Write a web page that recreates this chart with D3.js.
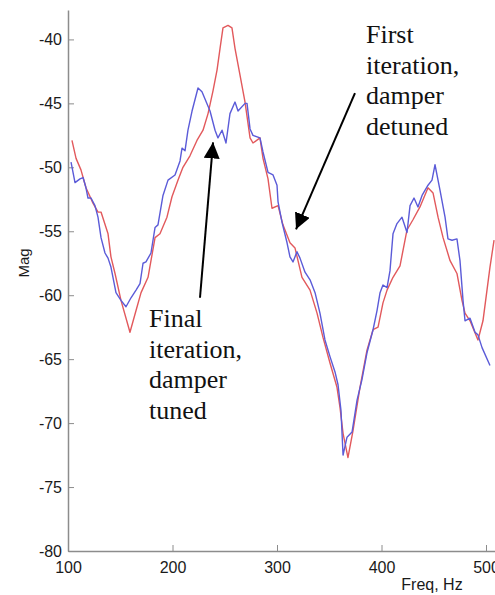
<!DOCTYPE html>
<html>
<head>
<meta charset="utf-8">
<script src="https://cdn.jsdelivr.net/npm/d3@7"></script>
<style>
  body { margin: 0; background: #fff; }
  svg { display: block; overflow: hidden; }
  .axis path, .axis line { stroke: #8c8c8c; }
  .axis text { font-family: "Liberation Sans", Arial, sans-serif; font-size: 16px; fill: #1a1a1a; }
  .note { font-family: "Liberation Serif", "Times New Roman", serif; font-size: 26px; fill: #111; }
</style>
</head>
<body>
<div id="chart"></div>
<script>
// first iteration, damper detuned (red)
const redFreq = [103.8, 107.7, 112.4, 117.2, 123.9, 128.7, 131.6, 138.3, 141.1, 145.0, 150.7, 159.3,
  165.1, 169.9, 176.6, 179.4, 183.3, 188.0, 194.7, 199.5, 205.3, 210.0, 216.7, 223.4, 229.2, 234.0,
  238.8, 242.6, 245.5, 248.3, 253.1, 256.9, 259.8, 264.6, 269.4, 274.2, 277.0, 283.7, 286.6, 291.4,
  295.2, 301.0, 305.7, 312.4, 317.2, 323.9, 331.6, 338.3, 344.0, 350.7, 357.4, 360.3, 363.2, 367.9,
  372.7, 379.4, 386.1, 391.9, 396.7, 401.4, 405.3, 411.0, 417.7, 424.4, 430.1, 436.8, 444.5, 449.3,
  454.1, 458.9, 465.6, 472.2, 477.0, 479.9, 484.7, 492.3, 497.1, 503.8, 507.7];
const redMag = [-47.9, -49.3, -50.2, -51.6, -52.8, -53.5, -53.5, -55.2, -57.0, -58.3, -60.4, -62.9,
  -61.2, -59.8, -58.6, -57.3, -55.5, -55.2, -53.9, -52.3, -51.0, -50.0, -49.1, -47.9, -47.1, -45.8,
  -44.0, -42.4, -40.7, -39.1, -38.9, -39.1, -40.7, -42.8, -44.9, -47.7, -48.1, -47.7, -49.3, -50.9,
  -53.2, -53.0, -54.5, -55.9, -56.3, -58.6, -59.6, -61.4, -63.3, -65.3, -67.2, -68.8, -70.8, -72.7,
  -70.6, -67.2, -64.3, -62.7, -62.5, -60.6, -59.6, -58.6, -57.7, -54.9, -54.1, -53.1, -51.6, -52.0,
  -53.9, -55.5, -57.3, -58.3, -60.4, -61.4, -62.0, -63.5, -62.0, -57.8, -55.7];

// final iteration, damper tuned (blue)
const blueFreq = [102.9, 106.7, 111.5, 114.4, 117.2, 119.1, 122.0, 125.8, 128.7, 131.6, 135.4, 138.3,
  141.1, 145.9, 150.7, 155.5, 160.3, 165.1, 168.9, 171.8, 174.6, 179.4, 183.3, 186.1, 190.9, 195.7,
  202.4, 207.2, 209.1, 212.0, 214.8, 218.7, 224.4, 228.2, 235.9, 240.7, 243.5, 247.4, 251.2, 255.0,
  259.8, 262.7, 269.4, 271.3, 274.2, 277.0, 283.7, 286.6, 291.4, 296.2, 300.0, 301.0, 304.8, 309.6,
  312.4, 315.3, 319.1, 322.0, 326.8, 331.6, 336.4, 341.1, 345.9, 350.7, 355.5, 358.4, 361.2, 363.2,
  367.0, 371.8, 376.6, 381.3, 386.1, 391.9, 395.7, 398.6, 401.4, 405.3, 408.1, 411.0, 414.8, 419.6,
  424.4, 427.3, 431.1, 434.9, 438.8, 444.5, 448.3, 451.2, 456.0, 460.8, 463.6, 467.5, 472.2, 475.1,
  478.0, 479.9, 484.7, 489.5, 492.3, 496.2, 503.8];
const blueMag = [-49.6, -51.2, -50.9, -50.8, -51.6, -52.4, -52.4, -53.0, -53.9, -55.5, -56.7, -57.1,
  -57.8, -59.8, -60.4, -60.9, -60.2, -59.6, -59.1, -57.5, -57.4, -56.7, -54.7, -54.5, -52.2, -51.0,
  -50.6, -49.5, -48.5, -48.7, -47.1, -45.6, -43.8, -44.1, -45.6, -47.1, -47.7, -47.1, -48.1, -45.8,
  -44.9, -45.6, -45.0, -45.0, -47.0, -47.5, -47.7, -48.8, -50.4, -50.6, -51.4, -52.7, -54.3, -55.9,
  -57.0, -57.4, -56.6, -57.1, -58.2, -58.8, -59.8, -61.4, -63.5, -64.8, -66.0, -67.0, -69.0, -72.5,
  -71.1, -70.7, -68.2, -66.6, -64.5, -62.7, -61.2, -59.8, -59.2, -59.4, -58.1, -55.2, -54.4, -53.9,
  -55.1, -53.0, -52.4, -53.1, -52.2, -51.4, -51.0, -49.8, -51.8, -53.9, -55.6, -55.7, -55.6, -57.3,
  -60.4, -62.0, -61.8, -62.9, -63.1, -64.1, -65.5];

const xTicks = [100, 200, 300, 400, 500];
const yTicks = [-80, -75, -70, -65, -60, -55, -50, -45, -40];

const width = 495, height = 595;
const margin = {top: 10, right: 0, bottom: 44, left: 68};

const svg = d3.select('#chart').append('svg')
  .attr('width', width)
  .attr('height', height);

const xScale = d3.scaleLinear()
  .domain([100, 508.6])
  .range([margin.left, width - margin.right]);

const yScale = d3.scaleLinear()
  .domain([-80, -37.7])
  .range([height - margin.bottom, margin.top]);

// axes, matlab style with inward ticks and plain hyphen minus
svg.append('g')
  .attr('class', 'axis y-axis')
  .attr('transform', 'translate(' + margin.left + ',0)')
  .call(d3.axisLeft(yScale).tickValues(yTicks).tickFormat(d => String(d))
    .tickSizeInner(-6).tickSizeOuter(0).tickPadding(6));

svg.append('g')
  .attr('class', 'axis x-axis')
  .attr('transform', 'translate(0,' + (height - margin.bottom) + ')')
  .call(d3.axisBottom(xScale).tickValues(xTicks).tickFormat(d => String(d))
    .tickSizeInner(-6).tickSizeOuter(0).tickPadding(11));

svg.selectAll('.axis path').attr('stroke-width', 1.5);

svg.append('text')
  .attr('transform', 'translate(29,263) rotate(-90)')
  .attr('text-anchor', 'middle')
  .style('font-family', '"Liberation Sans", Arial, sans-serif')
  .style('font-size', '15px')
  .attr('fill', '#1a1a1a')
  .text('Mag');

svg.append('text')
  .attr('x', 432)
  .attr('y', 590)
  .attr('text-anchor', 'middle')
  .style('font-family', '"Liberation Sans", Arial, sans-serif')
  .style('font-size', '16px')
  .attr('fill', '#1a1a1a')
  .text('Freq, Hz');

// lines
const line = d3.line()
  .x(d => xScale(d[0]))
  .y(d => yScale(d[1]));

svg.append('path')
  .datum(d3.zip(redFreq, redMag))
  .attr('fill', 'none')
  .attr('stroke', '#e2595c')
  .attr('stroke-width', 1.4)
  .attr('stroke-linejoin', 'round')
  .attr('d', line);

svg.append('path')
  .datum(d3.zip(blueFreq, blueMag))
  .attr('fill', 'none')
  .attr('stroke', '#5b5bd8')
  .attr('stroke-width', 1.4)
  .attr('stroke-linejoin', 'round')
  .attr('d', line);

// annotations
svg.append('defs').append('marker')
  .attr('id', 'head')
  .attr('viewBox', '0 0 10 10')
  .attr('refX', 10)
  .attr('refY', 5)
  .attr('markerWidth', 8)
  .attr('markerHeight', 8)
  .attr('markerUnits', 'strokeWidth')
  .attr('orient', 'auto')
  .append('path')
  .attr('d', 'M0,0 L10,5 L0,10 Z')
  .attr('fill', '#000');

const notes = [
  {lines: ['First', 'iteration,', 'damper', 'detuned'], at: [385.2, -40.3], from: [374.6, -44.2], to: [318.2, -54.85]},
  {lines: ['Final', 'iteration,', 'damper', 'tuned'], at: [177.5, -62.5], from: [226.3, -60.2], to: [238.8, -48.05]}
];

notes.forEach(n => {
  svg.append('line')
    .attr('x1', xScale(n.from[0]))
    .attr('y1', yScale(n.from[1]))
    .attr('x2', xScale(n.to[0]))
    .attr('y2', yScale(n.to[1]))
    .attr('stroke', '#000')
    .attr('stroke-width', 2)
    .attr('marker-end', 'url(#head)');

  const t = svg.append('text')
    .attr('class', 'note')
    .attr('x', xScale(n.at[0]))
    .attr('y', yScale(n.at[1]));
  t.selectAll('tspan')
    .data(n.lines)
    .enter()
    .append('tspan')
    .attr('x', xScale(n.at[0]))
    .attr('dy', (d, i) => i === 0 ? 0 : 30.5)
    .text(d => d);
});
</script>
</body>
</html>
